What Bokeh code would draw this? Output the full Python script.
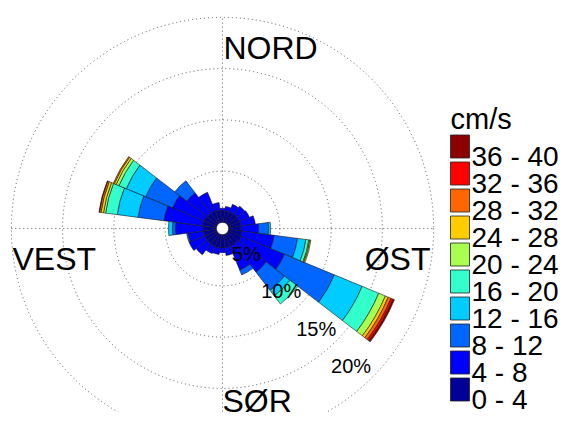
import numpy as np
from bokeh.plotting import figure
from bokeh.models import Range1d, ColumnDataSource
from bokeh.core.properties import value
from bokeh.embed import file_html
from bokeh.resources import INLINE

# ---------------- data ----------------
directions = list(range(0, 360, 15))          # bearing of each sector (deg, clockwise from north)
sector_width = 15
speed_labels = ["0 - 4", "4 - 8", "8 - 12", "12 - 16", "16 - 20",
                "20 - 24", "24 - 28", "28 - 32", "32 - 36", "36 - 40"]
colors = ["#000099", "#0000FF", "#0066FF", "#00CCFF", "#33FFCC",
          "#A8FF50", "#FFCC00", "#FF6600", "#FF0000", "#8B0000"]

# percent of time, per direction sector (0, 15, ..., 345) for each speed class (cm/s)
s_0_4   = [1.15, 1.15, 1.15, 1.2, 1.2, 1.2, 1.2, 1.3, 1.4, 1.3, 1.3, 1.3,
           1.3, 1.3, 1.3, 1.3, 1.3, 1.3, 1.3, 1.37, 1.37, 1.3, 1.3, 1.2]
s_4_8   = [0.22, 0.41, 0.8, 0.95, 1.04, 1.43, 1.73, 3.19, 4.55, 3.48, 2.5, 0.75,
           0.46, 0.65, 0.75, 1.33, 1.63, 1.5, 2.7, 3.8, 3.31, 2.5, 1.92, 0.75]
s_8_12  = [0, 0, 0, 0, 0, 0, 0.97, 2.3, 5.27, 2.24, 0.5, 0,
           0, 0, 0, 0, 0, 0.13, 0.29, 2.54, 2.83, 1.47, 0, 0]
s_12_16 = [0, 0, 0, 0, 0, 0, 0.2, 0.82, 2.93, 0.68, 0, 0,
           0, 0, 0, 0, 0, 0, 0.39, 2.05, 2.05, 0, 0, 0]
s_16_20 = [0, 0, 0, 0, 0, 0, 0, 0.29, 1.75, 0.98, 0, 0,
           0, 0, 0, 0, 0, 0, 0, 1.15, 0.78, 0, 0, 0]
s_20_24 = [0, 0, 0, 0, 0, 0, 0, 0.1, 0.7, 0, 0, 0,
           0, 0, 0, 0, 0, 0, 0, 0.2, 0.29, 0, 0, 0]
s_24_28 = [0, 0, 0, 0, 0, 0, 0, 0.1, 0.3, 0, 0, 0,
           0, 0, 0, 0, 0, 0, 0, 0.25, 0.2, 0, 0, 0]
s_28_32 = [0, 0, 0, 0, 0, 0, 0, 0, 0.3, 0, 0, 0,
           0, 0, 0, 0, 0, 0, 0, 0.15, 0.1, 0, 0, 0]
s_32_36 = [0, 0, 0, 0, 0, 0, 0, 0, 0.2, 0, 0, 0,
           0, 0, 0, 0, 0, 0, 0, 0.05, 0, 0, 0, 0]
s_36_40 = [0, 0, 0, 0, 0, 0, 0, 0, 0.16, 0, 0, 0,
           0, 0, 0, 0, 0, 0, 0, 0, 0, 0, 0, 0]

ring_pcts = [5, 10, 15, 20]
ring_labels = ["5%", "10%", "15%", "20%"]
compass_labels = ["NORD", "ØST", "SØR", "VEST"]
legend_title = "cm/s"

# ---------------- layout ----------------
S = 10.25          # pixels per percent
HOLE = 0.6         # empty hole in the centre (percent units)
W, H = 560, 412
CX, CY = 222, 228  # centre of rose in canvas pixels
FONT = value("Liberation Sans")

def px(dx):        # pixel offset from the rose centre -> data units
    return dx / S

p = figure(width=W, height=H, output_backend="svg", toolbar_location=None,
           x_range=Range1d(-CX / S, (W - CX) / S),
           y_range=Range1d(-(H - CY) / S, CY / S),
           min_border=0, outline_line_color=None)
p.axis.visible = False
p.grid.visible = False
p.background_fill_color = "white"
p.border_fill_color = "white"

# dotted grid: rings and cross
R_OUT = HOLE + ring_pcts[-1]
p.circle(x=[0] * len(ring_pcts), y=[0] * len(ring_pcts),
         radius=[HOLE + r for r in ring_pcts],
         fill_color=None, line_color="#555555", line_width=1, line_dash="1 3")
p.segment(x0=[-R_OUT, 0], y0=[0, -R_OUT], x1=[R_OUT, 0], y1=[0, R_OUT],
          line_color="#555555", line_width=1, line_dash="1 3")
p.circle(x=[0], y=[0], radius=[HOLE], fill_color="white", line_color=None)

# stacked sectors
classes = [s_0_4, s_4_8, s_8_12, s_12_16, s_16_20,
           s_20_24, s_24_28, s_28_32, s_32_36, s_36_40]
vals = np.array(classes, dtype=float)
cum = np.cumsum(vals, axis=0)
dirs = np.array(directions, dtype=float)
mid = np.deg2rad(90.0 - dirs)
half = np.deg2rad(sector_width / 2.0)
for k in range(len(classes)):
    inner = HOLE + (cum[k] - vals[k])
    outer = HOLE + cum[k]
    m = vals[k] > 0
    src = ColumnDataSource(dict(x=np.zeros(m.sum()), y=np.zeros(m.sum()),
                                ri=inner[m], ro=outer[m],
                                a0=(mid - half)[m], a1=(mid + half)[m]))
    p.annular_wedge(x="x", y="y", inner_radius="ri", outer_radius="ro",
                    start_angle="a0", end_angle="a1", source=src,
                    fill_color=colors[k], line_color="#1a1a1a", line_width=0.6)

# ring labels along bearing ~137 deg
lab_ang = np.deg2rad(90 - 137)
lr = np.array([HOLE + r - 2.2 for r in ring_pcts])
p.text(x=lr * np.cos(lab_ang), y=lr * np.sin(lab_ang), text=ring_labels,
       text_font=FONT, text_font_size="20px", text_color="black",
       text_align="center", text_baseline="middle")

# compass labels
p.text(x=[px(1)], y=[px(181)], text=[compass_labels[0]], text_font=FONT,
       text_font_size="32px", text_align="left", text_baseline="alphabetic")
p.text(x=[px(208)], y=[px(-30)], text=[compass_labels[1]], text_font=FONT,
       text_font_size="32px", text_align="right", text_baseline="alphabetic")
p.text(x=[px(0)], y=[px(-172)], text=[compass_labels[2]], text_font=FONT,
       text_font_size="32px", text_align="left", text_baseline="alphabetic")
p.text(x=[px(-210)], y=[px(-30)], text=[compass_labels[3]], text_font=FONT,
       text_font_size="32px", text_align="left", text_baseline="alphabetic")

# legend (top row = highest class)
n = len(speed_labels)
rows = np.arange(n)
row_y = np.array([px(CY - (146.0 + 27.0 * i)) for i in rows])
leg = ColumnDataSource(dict(x=[px(237.5)] * n, y=row_y,
                            c=colors[::-1], t=speed_labels[::-1],
                            tx=[px(249)] * n, ty=row_y - px(9.5)))
p.rect(x="x", y="y", width=px(19), height=px(23), source=leg,
       fill_color="c", line_color="#222222", line_width=0.8)
p.text(x="tx", y="ty", text="t", source=leg, text_font=FONT,
       text_font_size="28px", text_align="left", text_baseline="alphabetic")
p.text(x=[px(228)], y=[px(CY - 118)], text=[legend_title], text_font=FONT,
       text_font_size="29px", text_align="left", text_baseline="alphabetic")

open("out.html", "w").write(file_html(p, INLINE))
